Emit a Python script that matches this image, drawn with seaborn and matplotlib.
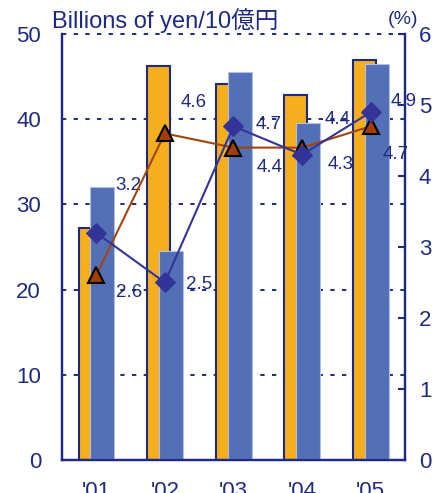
import pandas as pd
import numpy as np
from matplotlib import pyplot as plt
import seaborn as sns

years = ["'01", "'02", "'03", "'04", "'05"]
orange_vals = [27.2, 46.2, 44.1, 42.9, 47.0]   # billions of yen
blue_vals = [32.0, 24.5, 45.5, 39.5, 46.5]     # billions of yen
triangle_pct = [2.6, 4.6, 4.4, 4.4, 4.7]       # %
diamond_pct = [3.2, 2.5, 4.7, 4.3, 4.9]        # %

df = pd.DataFrame({'year': years, 'orange': orange_vals, 'blue': blue_vals,
                   'tri': triangle_pct, 'dia': diamond_pct, 'idx': range(len(years))})

navy = '#1E2A80'
orange = '#F5AE1E'
blue = '#5370B6'
dia_col = '#333399'
tri_line = '#A0460C'
tri_fill = '#A33E00'

sns.set_theme(style='white', context='notebook')
plt.rcParams['font.family'] = ['Liberation Sans', 'Noto Sans CJK JP']

fig = plt.figure(figsize=(4.36, 4.93), dpi=100)
ax = fig.add_axes([0.142, 0.067, 0.787, 0.864])

# bars (orange behind, blue shifted right on top)
sns.barplot(data=df, x='year', y='orange', color=orange, width=0.335,
            edgecolor=navy, linewidth=1.5, saturation=1, ax=ax, zorder=2)
n_or = len(ax.patches)
for p in ax.patches:
    p.set_x(p.get_x() - 0.09)
sns.barplot(data=df, x='year', y='blue', color=blue, width=0.35,
            edgecolor='#B4BFE0', linewidth=0.8, saturation=1, ax=ax, zorder=3)
for p in ax.patches[n_or:]:
    p.set_x(p.get_x() + 0.09)

ax.set_xlim(-0.5, 4.5)
ax.set_ylim(0, 50)
ax.set_yticks([0, 10, 20, 30, 40, 50])
for v in [10, 20, 30, 40, 50]:
    ax.axhline(v, color=navy, lw=1.4, ls=(0, (2.2, 3.8)), zorder=1, clip_on=False)
ax.set_xlabel('')
ax.set_ylabel('')
ax.tick_params(axis='y', length=0, pad=15, labelsize=16, labelcolor=navy)
ax.tick_params(axis='x', which='major', length=0, pad=15, labelsize=16, labelcolor=navy)
ax.set_xticks([0.5, 1.5, 2.5, 3.5], minor=True)
ax.tick_params(axis='x', which='minor', direction='in', length=6, width=1.5, color=navy)
for s in ['left', 'right', 'bottom']:
    ax.spines[s].set_color(navy)
    ax.spines[s].set_linewidth(1.6)
ax.spines['top'].set_visible(False)

# lines on right axis
ax2 = ax.twinx()
sns.lineplot(data=df, x='idx', y='tri', color=tri_line, lw=1.5, marker='^',
             markersize=11, markerfacecolor=tri_fill, markeredgecolor='black',
             markeredgewidth=1.5, ax=ax2, zorder=4)
sns.lineplot(data=df, x='idx', y='dia', color=dia_col, lw=1.5, marker='D',
             markersize=10, markerfacecolor=dia_col, markeredgecolor=dia_col, ax=ax2, zorder=5)
ax2.set_xlim(-0.5, 4.5)
ax2.set_ylim(0, 6)
ax2.set_yticks(range(7))
ax2.set_xlabel('')
ax2.set_ylabel('')
ax2.tick_params(axis='y', direction='in', length=5, width=1.5, color=navy, pad=10,
                labelsize=16, labelcolor=navy)
for s in ['left', 'right', 'bottom']:
    ax2.spines[s].set_color(navy)
    ax2.spines[s].set_linewidth(1.6)
ax2.spines['top'].set_visible(False)

# value labels (offsets in pixels)
tri_off = [(33, -17), (29, 31), (36, -20), (36, 28), (25, -28)]
dia_off = [(32, 47), (34, -2), (35, 2), (39, -10), (33, 11)]
for i in range(len(years)):
    ax2.annotate(f'{triangle_pct[i]:.1f}', (i, triangle_pct[i]), xytext=tri_off[i],
                 textcoords='offset pixels', ha='center', va='center', fontsize=13.5, color=navy)
    ax2.annotate(f'{diamond_pct[i]:.1f}', (i, diamond_pct[i]), xytext=dia_off[i],
                 textcoords='offset pixels', ha='center', va='center', fontsize=13.5, color=navy)

fig.text(52 / 436, 1 - 21 / 493, 'Billions of yen/10億円', ha='left', va='center',
         fontsize=17, color=navy)
fig.text(403 / 436, 1 - 20 / 493, '(%)', ha='center', va='center', fontsize=14, color=navy)

fig.savefig('out.png', dpi=100)
